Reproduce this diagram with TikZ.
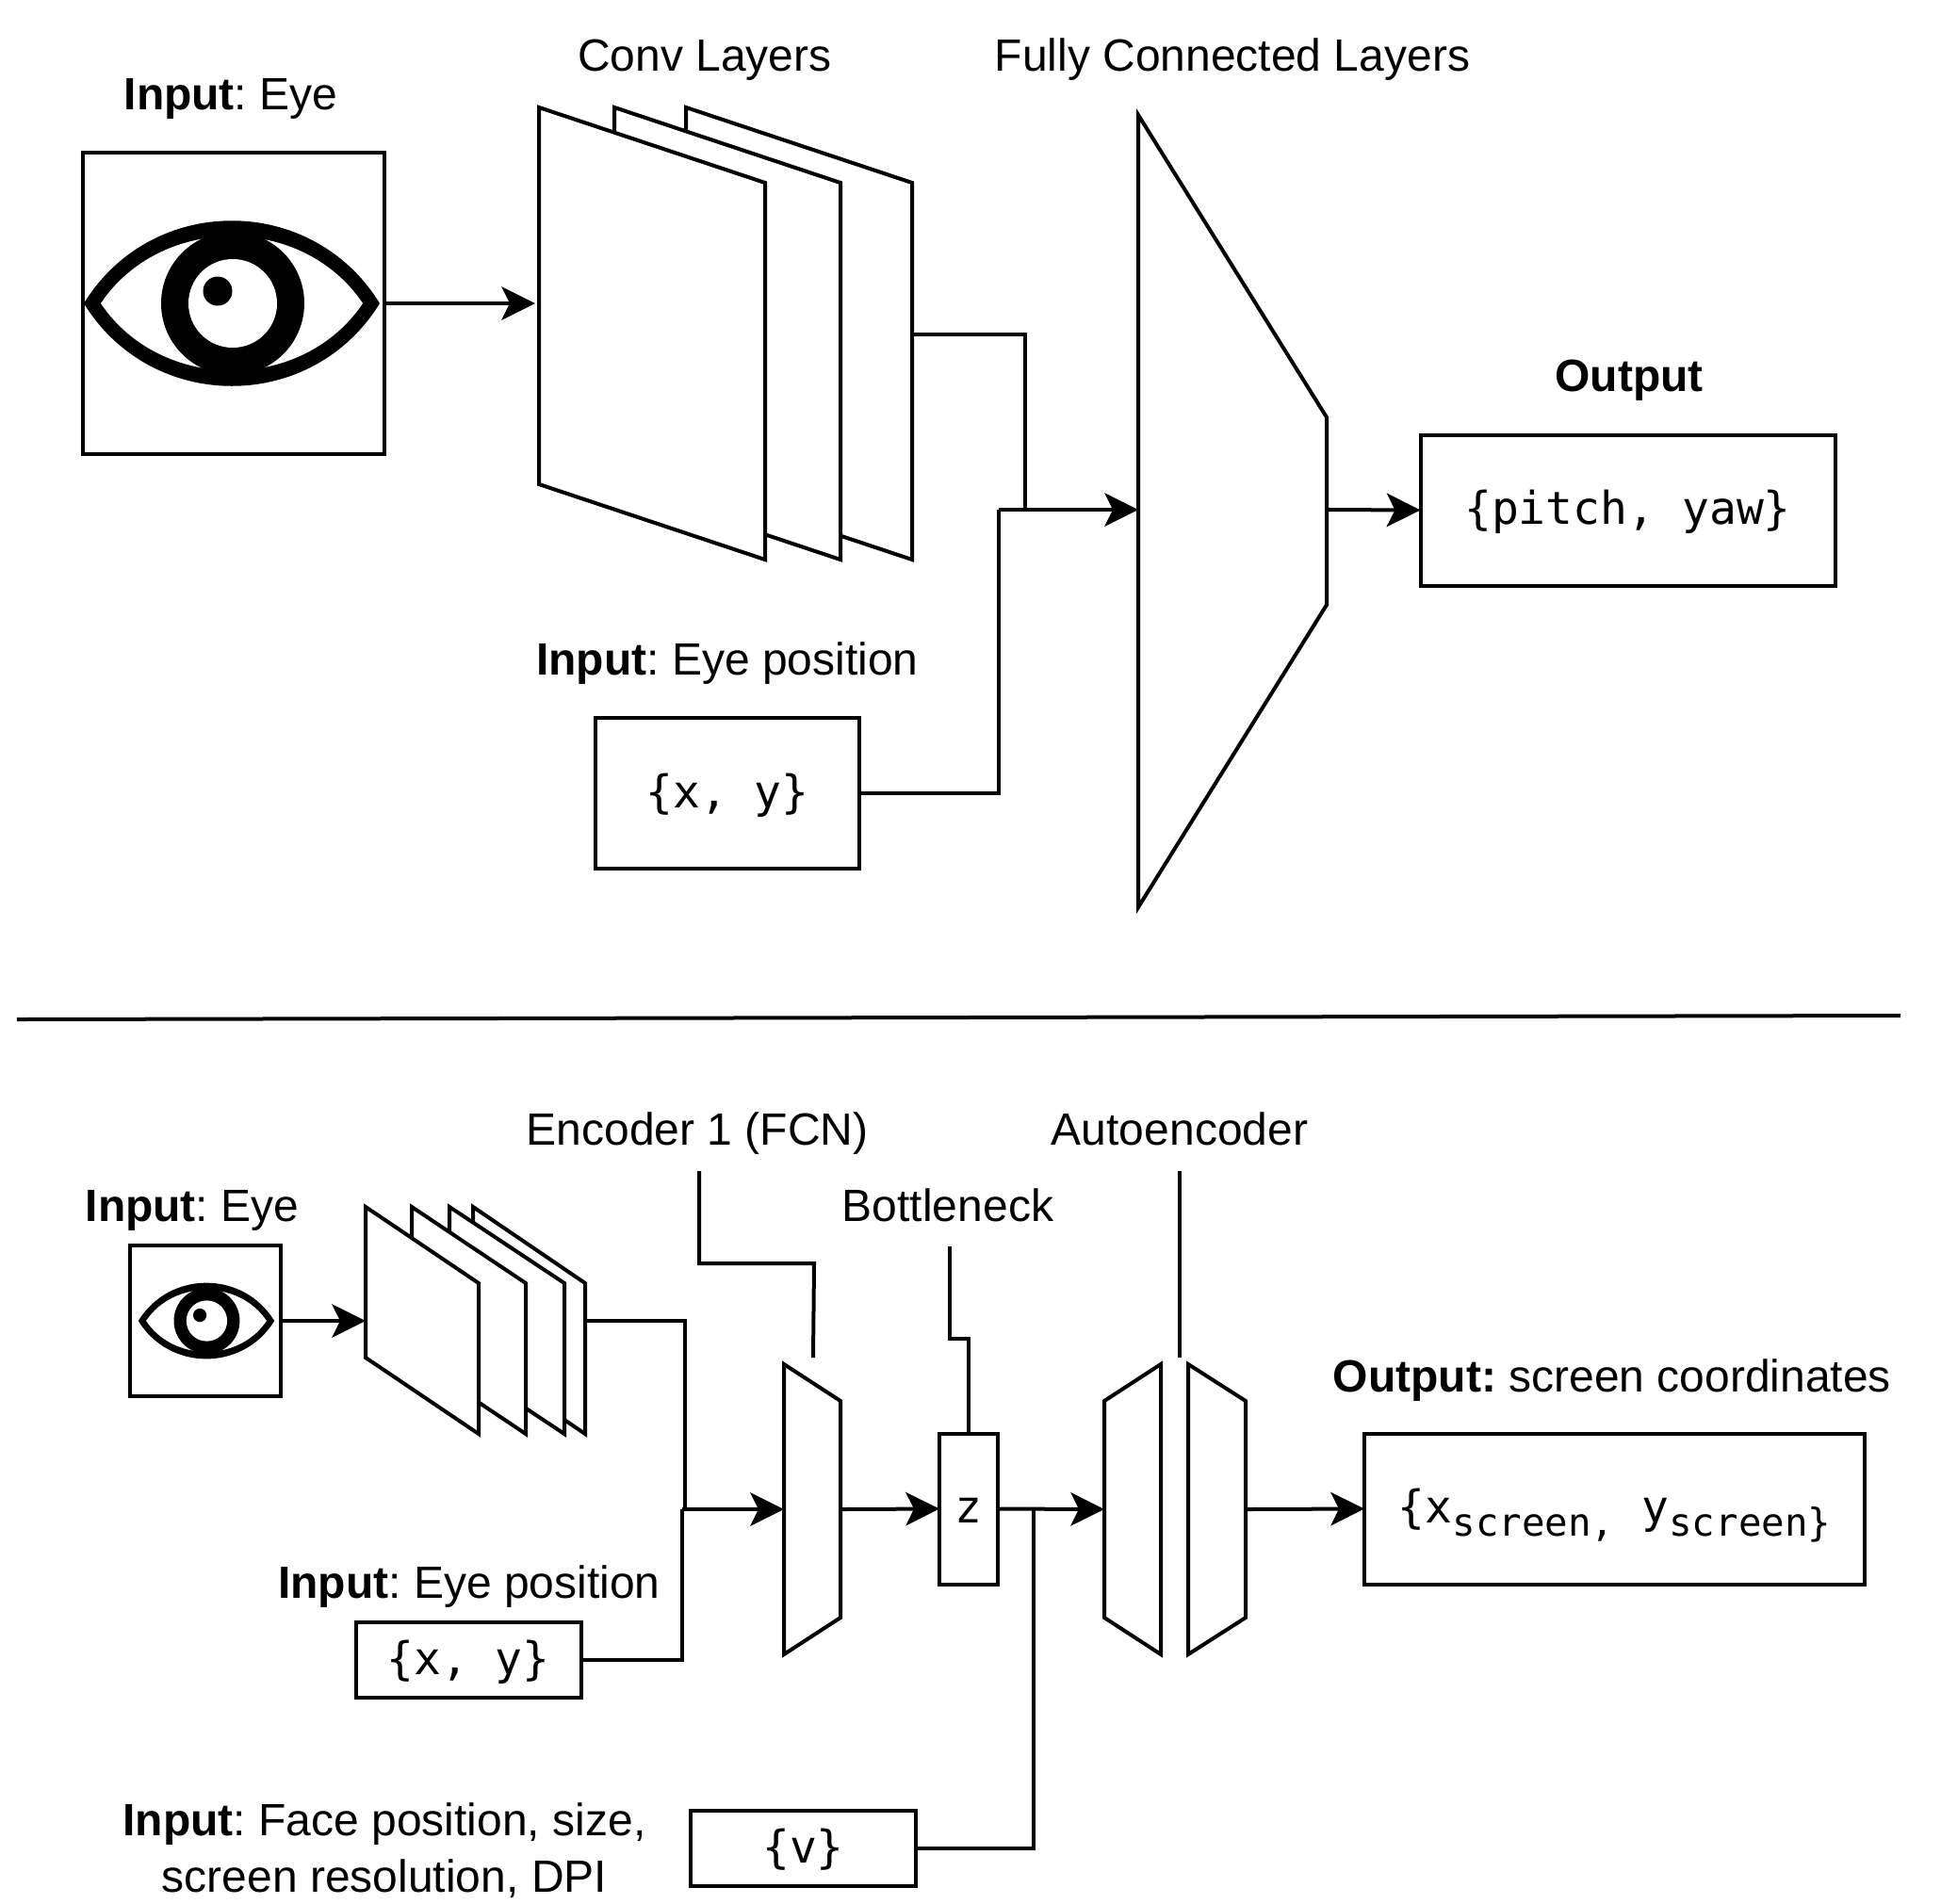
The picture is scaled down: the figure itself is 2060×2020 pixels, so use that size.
\documentclass[tikz,border=0pt]{standalone}
\usepackage{fontspec}
\setmainfont{Liberation Sans}
\setmonofont{DejaVu Sans Mono}
\usetikzlibrary{arrows.meta}
\frenchspacing
\newcommand{\eyeicon}[3]{%
  \begin{scope}[shift={(#1,#2)},scale=#3]
    \fill[black] (-157,0) .. controls (-85,-117) and (85,-117) .. (157,0)
                          .. controls (85,117) and (-85,117) .. (-157,0) -- cycle;
    \fill[white] (-139,0) .. controls (-75,-95) and (75,-95) .. (139,0)
                          .. controls (75,95) and (-75,95) .. (-139,0) -- cycle;
    \fill[black] (1,0) circle [radius=76];
    \fill[white] (1,0) circle [radius=47];
    \fill[black] (-15,-13) circle [radius=15.5];
  \end{scope}}
\newcommand{\subsc}[1]{\raisebox{-7pt}{\fontsize{20.4}{24}\selectfont #1}}
\tikzset{
  ln/.style={line width=2pt,draw=black,line join=miter},
  arrowline/.style={ln,-{Stealth[length=18pt,width=18pt,inset=4.5pt,line width=0pt]}},
  plainline/.style={ln},
  boxnode/.style={draw=black,line width=2pt,fill=white,inner sep=0pt,outer sep=0pt,text height=20pt,text depth=4.6pt,font=\ttfamily\fontsize{24}{30}\selectfont},
  plane/.style={ln,fill=white},
  lbl/.style={inner sep=0pt,outer sep=0pt,anchor=base,font=\fontsize{24}{30}\selectfont,text=black},
}
\begin{document}
\begin{tikzpicture}[x=0.5pt,y=-0.5pt]
\useasboundingbox (0,0) rectangle (2060,2020);
\fill[white] (0,0) rectangle (2060,2020);

% ---------- top network ----------
\node[boxnode,minimum width=160pt,minimum height=160pt] (eyeA) at (248,322) {};
\eyeicon{246}{322}{1}
\node[lbl] (lblEyeA) at (245,116) {\textbf{Input}: Eye};

\draw[plane] (728,114) -- (968,194) -- (968,594) -- (728,514) -- cycle;
\draw[plane] (652,114) -- (892,194) -- (892,594) -- (652,514) -- cycle;
\draw[plane] (572,114) -- (812,194) -- (812,594) -- (572,514) -- cycle;
\coordinate (stackAin) at (568,322);
\coordinate (stackAout) at (968,355);
\node[lbl] (lblConv) at (748,75) {Conv Layers};
\draw[arrowline] (eyeA.east) -- (stackAin);

\node[boxnode,minimum width=140pt,minimum height=80pt] (xyA) at (772,842) {\{x, y\}};
\node[lbl] (lblPosA) at (772,716) {\textbf{Input}: Eye position};

\draw[plane] (1208,122) -- (1408,443) -- (1408,642) -- (1208,963) -- cycle;
\coordinate (fcIn) at (1208,541);
\coordinate (fcOut) at (1408,541);
\node[lbl] (lblFC) at (1308,75) {Fully Connected Layers};

\node[boxnode,minimum width=220pt,minimum height=80pt] (outA) at (1727.5,541.5) {\{pitch, yaw\}};
\node[lbl] (lblOutA) at (1729,415) {\textbf{Output}};

\coordinate (joinA) at (1088,541);
\coordinate (joinB) at (1060,541);
\draw[plainline] (stackAout) -| (joinA);
\draw[plainline] (xyA.east) -| (joinB);
\draw[arrowline] (joinB) -- (fcIn);
\draw[arrowline] (fcOut) -- (outA.west);

% ---------- divider ----------
\coordinate (divL) at (18,1082);
\coordinate (divR) at (2017,1078);
\draw[plainline] (divL) -- (divR);

% ---------- bottom network ----------
\node[boxnode,minimum width=80pt,minimum height=80pt] (eyeB) at (218,1402) {};
\eyeicon{219}{1402}{0.46}
\node[lbl] (lblEyeB) at (204,1296) {\textbf{Input}: Eye};

\draw[plane] (502,1281) -- (621,1362) -- (621,1522) -- (502,1441) -- cycle;
\draw[plane] (477,1281) -- (599,1362) -- (599,1522) -- (477,1441) -- cycle;
\draw[plane] (437,1281) -- (558,1362) -- (558,1522) -- (437,1441) -- cycle;
\draw[plane] (388,1281) -- (508,1362) -- (508,1522) -- (388,1441) -- cycle;
\coordinate (stackBin) at (388,1402);
\coordinate (stackBout) at (621,1402);
\draw[arrowline] (eyeB.east) -- (stackBin);

\node[boxnode,minimum width=119.5pt,minimum height=40pt] (xyB) at (497,1762) {\{x, y\}};
\node[lbl] (lblPosB) at (498,1696) {\textbf{Input}: Eye position};

\draw[plane] (832,1448) -- (892,1487) -- (892,1717) -- (832,1756) -- cycle;
\coordinate (encIn) at (832,1602);
\coordinate (encOut) at (892,1602);
\coordinate (encTop) at (863,1441);

\node[boxnode,minimum width=31pt,minimum height=80pt] (zbox) at (1028,1601.5) {z};

\draw[plane] (1232,1448) -- (1172,1487) -- (1172,1717) -- (1232,1756) -- cycle;
\draw[plane] (1261,1448) -- (1322,1487) -- (1322,1717) -- (1261,1756) -- cycle;
\coordinate (aeIn) at (1172,1602);
\coordinate (aeOut) at (1322,1602);
\coordinate (aeTop) at (1252,1441);

\node[boxnode,minimum width=265.5pt,minimum height=80pt] (outB) at (1713.5,1601.5) {\{x\subsc{screen,} y\subsc{screen\}}};
\node[lbl] (lblOutB) at (1711,1477) {\textbf{Output:} screen coordinates};

\node[boxnode,minimum width=119.5pt,minimum height=40pt] (vbox) at (852.5,1962) {\{v\}};
\node[inner sep=0pt,outer sep=0pt,align=center,font=\fontsize{24}{30}\selectfont] (lblFace) at (408,1964) {\textbf{Input}: Face position, size,\\screen resolution, DPI};

\coordinate (joinC) at (727,1602);
\coordinate (joinD) at (724,1602);
\coordinate (joinE) at (1097,1602);
\draw[plainline] (stackBout) -| (joinC);
\draw[plainline] (xyB.east) -| (joinD);
\draw[arrowline] (joinD) -- (encIn);
\draw[arrowline] (encOut) -- (zbox.west);
\draw[arrowline] (zbox.east) -- (aeIn);
\draw[arrowline] (aeOut) -- (outB.west);
\draw[plainline] (vbox.east) -| (joinE);

% ---------- callouts ----------
\node[lbl] (lblEnc) at (740,1215) {Encoder 1 (FCN)};
\node[lbl] (lblAE) at (1252,1215) {Autoencoder};
\node[lbl] (lblBott) at (1006,1296) {Bottleneck};
\coordinate (encFree) at (742,1243);
\coordinate (encBendA) at (742,1341);
\coordinate (encBendB) at (864,1341);
\draw[plainline] (encFree) -- (encBendA) -- (encBendB) -- (encTop);
\coordinate (botFree) at (1008,1323);
\coordinate (botBendA) at (1008,1421);
\coordinate (botBendB) at (1028,1421);
\draw[plainline] (botFree) -- (botBendA) -- (botBendB) -- (zbox.north);
\coordinate (aeFree) at (1252,1243);
\draw[plainline] (aeFree) -- (aeTop);
\end{tikzpicture}
\end{document}
